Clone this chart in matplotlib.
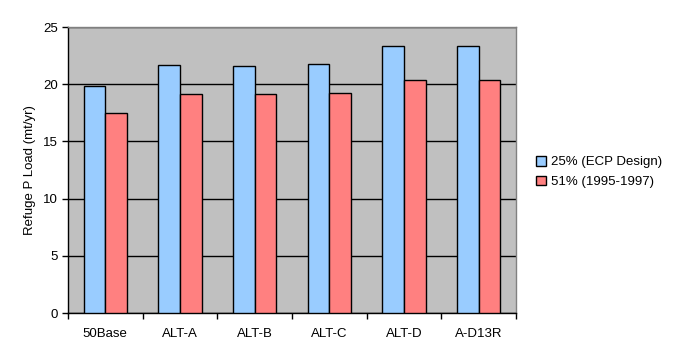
import matplotlib
matplotlib.use("Agg")
import matplotlib.pyplot as plt
import numpy as np

categories = ["50Base", "ALT-A", "ALT-B", "ALT-C", "ALT-D", "A-D13R"]
series_names = ["25% (ECP Design)", "51% (1995-1997)"]
ecp = [19.85, 21.65, 21.55, 21.75, 23.3, 23.3]
base = [17.45, 19.1, 19.1, 19.2, 20.35, 20.35]
yticks = [0, 5, 10, 15, 20, 25]

plt.rcParams['font.family'] = ['Liberation Sans', 'DejaVu Sans']
fs = 9.5
fig = plt.figure(figsize=(6.75, 3.6), dpi=100)
ax = fig.add_axes([68/675, 1-313/360, (516-68)/675, (313-27)/360])
ax.set_facecolor('#C0C0C0')

x = np.arange(len(categories))
w = 0.29
ax.bar(x - w/2, ecp, w, color='#99CCFF', edgecolor='black', linewidth=1.0, label=series_names[0], zorder=3)
ax.bar(x + w/2, base, w, color='#FF8080', edgecolor='black', linewidth=1.0, label=series_names[1], zorder=3)

ax.set_xlim(-0.5, len(categories) - 0.5)
ax.set_ylim(0, 25)
ax.set_yticks(yticks)
ax.set_yticklabels([str(v) for v in yticks], fontsize=fs)
ax.yaxis.grid(True, color='black', linewidth=1.0, zorder=1)
ax.set_axisbelow(True)

ax.set_xticks(x)
ax.set_xticklabels(categories, fontsize=fs)
ax.tick_params(axis='x', which='major', length=0, pad=11)
ax.set_xticks(np.arange(-0.5, len(categories)), minor=True)
ax.tick_params(axis='x', which='minor', length=4, width=1, color='black', direction='out')
ax.tick_params(axis='y', length=4, width=1, direction='out', pad=3)

for s in ['left', 'bottom']:
    ax.spines[s].set_color('black')
    ax.spines[s].set_linewidth(1.0)
for s in ['top', 'right']:
    ax.spines[s].set_color('#808080')
    ax.spines[s].set_linewidth(1.0)

ax.set_ylabel("Refuge P Load (mt/yr)", fontsize=fs, labelpad=5)

ax.legend(loc='center left', bbox_to_anchor=(524/675, 1-172/360), bbox_transform=fig.transFigure,
          frameon=False, fontsize=fs, handlelength=0.75, handleheight=0.75, handletextpad=0.4,
          labelspacing=0.55)

fig.savefig("out.png", dpi=100)
